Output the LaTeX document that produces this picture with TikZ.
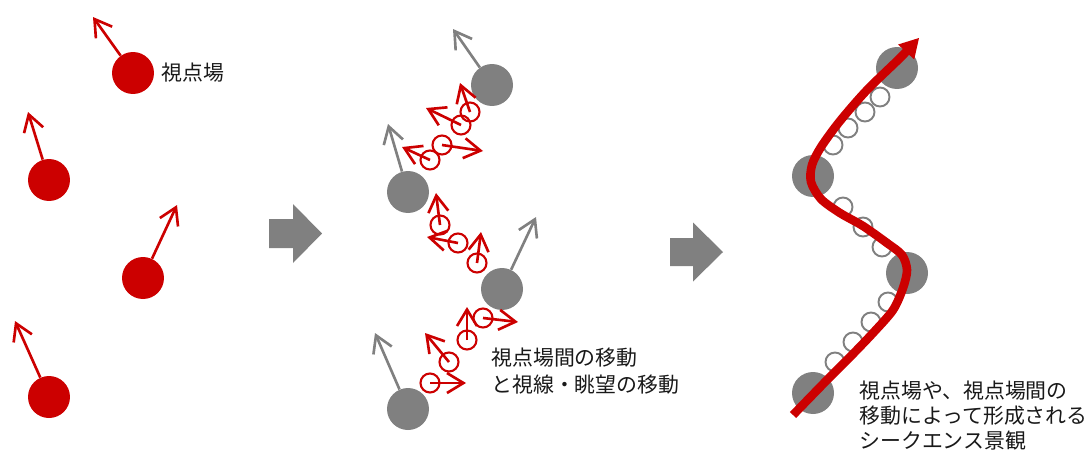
\documentclass[tikz,border=0pt]{standalone}
\usepackage{fontspec}
\newfontfamily\jp{Noto Sans CJK JP}
\usetikzlibrary{arrows.meta}
\definecolor{myred}{HTML}{CC0000}
\definecolor{mygrey}{HTML}{808080}
\begin{document}
\begin{tikzpicture}[x=0.02cm,y=-0.02cm,
  redball/.style={circle,fill=myred,minimum size=0.84cm,inner sep=0pt},
  greyball/.style={circle,fill=mygrey,minimum size=0.84cm,inner sep=0pt},
  redring/.style={circle,draw=myred,line width=1.2pt,minimum size=0.38cm,inner sep=0pt},
  greyring/.style={circle,draw=mygrey,line width=1.1pt,minimum size=0.38cm,inner sep=0pt},
  redarrow/.style={draw=myred,line width=1.5pt,-{Straight Barb[length=0.33cm,width=0.4cm]}},
  greyarrow/.style={draw=mygrey,line width=1.5pt,-{Straight Barb[length=0.33cm,width=0.4cm]}},
  blockarrow/.style={fill=mygrey},
  txt/.style={font=\jp\fontsize{11.9pt}{15.4pt}\selectfont,inner sep=0pt,align=left,text=black!90}]
\useasboundingbox (0,0) rectangle (1092,450);

% ---------- left panel ----------
\node[redball] (r1) at (133,73) {};
\node[redball] (r2) at (49,180) {};
\node[redball] (r3) at (143,278) {};
\node[redball] (r4) at (49,397) {};
\coordinate (t1) at (93,17);
\coordinate (t2) at (28,112);
\coordinate (t3) at (177,205);
\coordinate (t4) at (15,321);
\draw[redarrow] (r1) -- (t1);
\draw[redarrow] (r2) -- (t2);
\draw[redarrow] (r3) -- (t3);
\draw[redarrow] (r4) -- (t4);
\node[txt,anchor=west] (lab1) at (161,73) {視点場};

% ---------- block arrows ----------
\fill[blockarrow] (269,219) -- (293,219) -- (293,204) -- (322,233.5) -- (293,263) -- (293,248) -- (269,248) -- cycle;
\fill[blockarrow] (670,238) -- (693,238) -- (693,222.5) -- (723,252) -- (693,281.5) -- (693,266) -- (670,266) -- cycle;

% ---------- middle panel ----------
\node[greyball] (g1) at (492,85) {};
\node[greyball] (g2) at (408,192) {};
\node[greyball] (g3) at (502,289) {};
\node[greyball] (g4) at (408,409) {};
\coordinate (gt1) at (453,29);
\coordinate (gt2) at (388,124);
\coordinate (gt3) at (536,217);
\coordinate (gt4) at (375,333);
\draw[greyarrow] (g1) -- (gt1);
\draw[greyarrow] (g2) -- (gt2);
\draw[greyarrow] (g3) -- (gt3);
\draw[greyarrow] (g4) -- (gt4);

\foreach \n/\cx/\cy/\tx/\ty in {
  a/470/112/460/83,
  b/461/125/426/108,
  c/442/145/483/151,
  d/430/160/402/147,
  e/440/225/436/193,
  f/458/243/427/237,
  g/477/263/481/232,
  h/483/318/518/322,
  i/467/340/467/307,
  j/449/362/425/333,
  k/430/383/466/383}{
  \node[redring] (m\n) at (\cx,\cy) {};
  \coordinate (mt\n) at (\tx,\ty);
  \draw[redarrow] (m\n.center) -- (mt\n);
}
\node[txt,anchor=north west] (lab2) at (491,347.5) {視点場間の移動\\と視線・眺望の移動};

% ---------- right panel ----------
\node[greyball] (s1) at (897,68) {};
\node[greyball] (s2) at (813,176) {};
\node[greyball] (s3) at (907,273) {};
\node[greyball] (s4) at (813,393) {};
\foreach \i/\cx/\cy in {1/880/97,2/865/112,3/848/128,4/833/145,
  5/843/207,6/863/227,7/882/247,
  8/888/302,9/871/322,10/853/342,11/835/362}{
  \node[greyring] (q\i) at (\cx,\cy) {};
}
\coordinate (pend) at (918,38);
\draw[myred,line width=4.9pt,-{Triangle[length=0.38cm,width=0.44cm,line width=0pt]}]
  plot[smooth,tension=0.5] coordinates {(793,415) (827,380) (850,357) (873,333) (893,310) (903,288) (907,270) (902,255) (887,243) (863,226) (840,213) (821,199) (811,182) (812,165) (821,147) (840,121) (867,90) (900,58) (919,38)};
\node[txt,anchor=north west,font=\jp\fontsize{11.9pt}{14.2pt}\selectfont] (lab3) at (859,380.5) {視点場や、視点場間の\\移動によって形成される\\シークエンス景観};
\end{tikzpicture}
\end{document}
